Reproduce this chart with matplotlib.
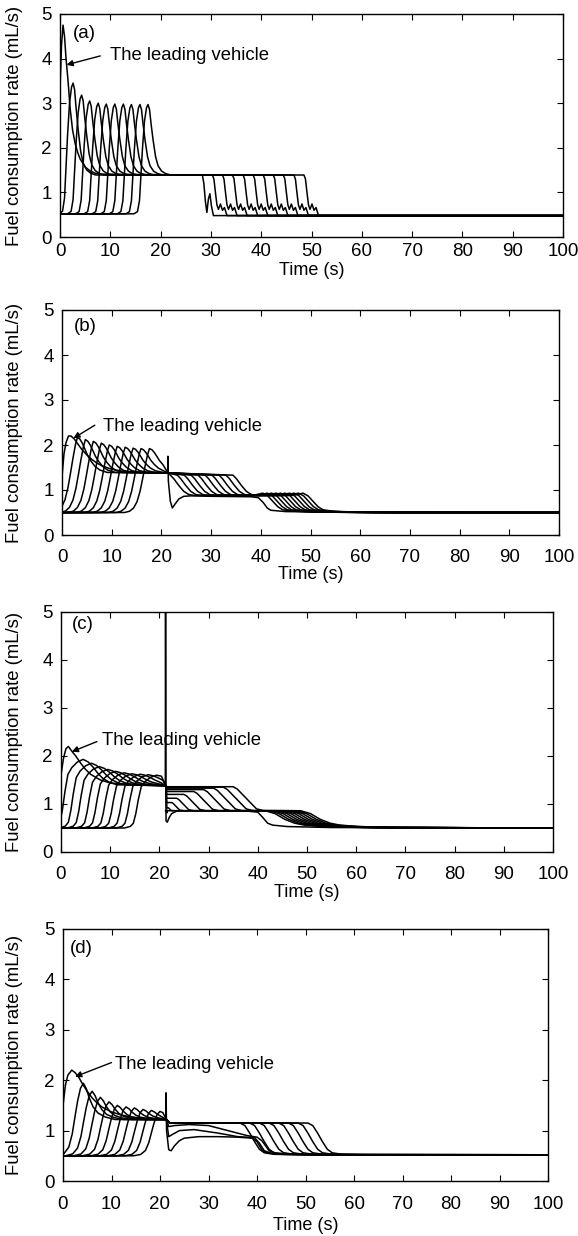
import matplotlib
matplotlib.use("Agg")
import matplotlib.pyplot as plt

plt.rcParams['font.family'] = ['Liberation Sans', 'DejaVu Sans']

# ---------------- data ----------------
x_ticks = [0, 10, 20, 30, 40, 50, 60, 70, 80, 90, 100]
y_ticks = [0, 1, 2, 3, 4, 5]
panel_tags = ['(a)', '(b)', '(c)', '(d)']

# ---- panel (a) ----
a_lead_t = [0, 0.3, 0.6, 0.9, 1.2, 1.6, 2.0, 2.5, 3.0, 3.5, 4.0, 5.0, 6.0, 7.0, 8.0,
            28.3, 28.6, 28.9, 29.2, 29.5, 29.8, 30.1, 30.5, 100]
a_lead_v = [3.3, 4.3, 4.75, 4.5, 4.0, 3.5, 2.9, 2.4, 2.1, 1.9, 1.75, 1.57, 1.48, 1.43, 1.41,
            1.39, 1.2, 0.8, 0.55, 0.85, 0.97, 0.7, 0.48, 0.48]
a_peak_t = [2.6, 4.3, 5.9, 7.6, 9.2, 10.9, 12.6, 14.2, 15.9, 17.5]
a_peak_v = [3.45, 3.18, 3.05, 3.0, 2.98, 2.98, 2.98, 2.97, 2.97, 2.97]
a_drop_t = [30.3, 32.3, 34.3, 36.4, 38.4, 40.4, 42.4, 44.4, 46.5, 48.5]
a_rise_dt = [-2.8, -2.1, -1.7, -1.4, -1.1, -0.7, -0.3, 0]
a_rise_f = [0, 0.02, 0.12, 0.36, 0.6, 0.85, 0.97, 1]
a_decay_dt = [0.3, 0.6, 1.0, 1.5, 2.0, 2.7, 3.5, 4.5]
a_decay_f = [0.93, 0.73, 0.5, 0.26, 0.13, 0.055, 0.02, 0]
a_drop_dt = [0, 0.3, 0.6, 0.9, 1.2, 1.6, 2.0, 2.4, 2.9]
a_drop_v = [1.39, 1.3, 1.0, 0.72, 0.62, 0.74, 0.6, 0.66, 0.48]
a_idle, a_cruise, a_stop = 0.52, 1.39, 0.48

# ---- panel (b) ----
b_lead_t = [0, 0.4, 0.8, 1.3, 1.8, 2.5, 3, 4, 5, 6, 7, 8, 10, 12, 15, 21.25, 21.3, 21.4,
            21.8, 22.2, 22.7, 23.5, 24.5, 26, 30, 38, 39.5, 40.5, 41.3, 42, 45, 55, 100]
b_lead_v = [1.3, 1.8, 2.05, 2.2, 2.2, 2.13, 2.05, 1.9, 1.78, 1.68, 1.6, 1.54, 1.46, 1.42, 1.4,
            1.38, 1.75, 1.2, 0.75, 0.6, 0.68, 0.8, 0.86, 0.87, 0.86, 0.85, 0.83, 0.72, 0.6,
            0.55, 0.52, 0.51, 0.5]
b_peak_t = [3.1, 4.7, 6.3, 7.9, 9.5, 11.1, 12.7, 14.3, 15.9, 17.6]
b_peak_v = [2.17, 2.12, 2.08, 2.04, 2.0, 1.97, 1.95, 1.93, 1.92, 1.92]
b_rise_dt = [-5.0, -4.0, -3.2, -2.5, -1.9, -1.4, -0.9, -0.4, 0]
b_rise_f = [0, 0.02, 0.07, 0.17, 0.33, 0.52, 0.72, 0.9, 1]
b_decay_dt = [0.5, 1.0, 1.5, 2.0, 2.7, 3.5, 4.5, 6.0]
b_decay_f = [0.95, 0.83, 0.67, 0.5, 0.33, 0.18, 0.07, 0]
b_desc_start = [21.5, 22.9, 24.3, 25.7, 27.1, 28.5, 29.9, 31.3, 32.7, 34.1]
b_desc_dt = [0, 1, 2, 3, 4, 5]
b_desc_v = [1.33, 1.25, 1.1, 0.97, 0.9, 0.88]
b_stop_t = [40.4, 41.3, 42.2, 43.1, 44.0, 44.9, 45.8, 46.7, 47.6, 48.5]
b_stop_dt = [-2, 0, 1, 2, 3, 4, 6, 10, 20]
b_stop_v = [0.88, 0.93, 0.87, 0.75, 0.63, 0.56, 0.53, 0.51, 0.5]
b_idle, b_cruise, b_final = 0.5, 1.39, 0.5

# ---- panel (c) ----
c_lead_t = [0, 0.5, 1.0, 1.5, 2.2, 3, 4, 5, 6, 8, 10, 12, 20, 21.2, 21.25, 21.35, 21.6,
            22.0, 22.5, 23.5, 25, 30, 38, 40, 41, 42, 43, 46, 55, 100]
c_lead_v = [1.6, 1.95, 2.15, 2.2, 2.1, 2.0, 1.85, 1.72, 1.62, 1.5, 1.44, 1.42, 1.4, 1.38,
            5.6, 0.65, 0.62, 0.72, 0.8, 0.85, 0.86, 0.86, 0.85, 0.83, 0.72, 0.6, 0.56, 0.53,
            0.51, 0.5]
c_peak_t = [4.5, 6.2, 7.8, 9.5, 11.1, 12.8, 14.4, 16.1, 17.7, 19.4]
c_peak_v = [1.93, 1.85, 1.78, 1.72, 1.68, 1.65, 1.63, 1.62, 1.61, 1.6]
c_rise_dt = [-6.5, -5.3, -4.7, -4.2, -3.7, -3.1, -2.3, -1.2, 0]
c_rise_f = [0, 0.03, 0.09, 0.27, 0.53, 0.78, 0.88, 0.96, 1]
c_decay_dt = [1, 2, 3, 4, 5.5, 7]
c_decay_f = [0.9, 0.7, 0.45, 0.25, 0.08, 0]
c_after_v = [0.82, 0.92, 1.03, 1.12, 1.2, 1.26, 1.3, 1.33, 1.35, 1.36]
c_desc_start = [21.6, 21.8, 22.5, 23.5, 25.0, 27.0, 29.0, 31.0, 33.0, 35.0]
c_stop_t = [41.5, 42.3, 43.1, 43.9, 44.7, 45.5, 46.3, 47.1, 47.9, 48.7]
c_stop_dt = [0, 2, 4, 6, 8, 12, 20]
c_stop_v = [0.86, 0.8, 0.68, 0.6, 0.56, 0.53, 0.51]
c_idle, c_cruise, c_band, c_final = 0.5, 1.4, 0.86, 0.5

# ---- panel (d) ----
d_lead_t = [0, 0.5, 1.0, 1.8, 2.5, 3.3, 4, 5, 6, 7, 8, 10, 12, 14, 16, 18, 21.2, 21.25,
            21.35, 21.8, 22.3, 23, 24, 25, 28, 32, 36, 39, 40, 41, 42, 45, 55, 100]
d_lead_v = [1.5, 1.9, 2.1, 2.2, 2.15, 2.05, 1.93, 1.78, 1.65, 1.55, 1.47, 1.37, 1.31, 1.27,
            1.25, 1.23, 1.22, 1.75, 1.0, 0.62, 0.6, 0.7, 0.8, 0.85, 0.88, 0.88, 0.87, 0.85,
            0.78, 0.62, 0.56, 0.53, 0.52, 0.52]
d_peak_t = [4.2, 6.0, 7.7, 9.5, 11.2, 13.0, 14.7, 16.5, 18.2, 20.0]
d_peak_v = [1.94, 1.78, 1.66, 1.57, 1.5, 1.47, 1.45, 1.42, 1.4, 1.38]
d_rise_dt = [-5.5, -4, -3, -2.3, -1.7, -1.2, -0.6, 0]
d_rise_f = [0, 0.03, 0.12, 0.3, 0.55, 0.75, 0.93, 1]
d_decay_dt = [0.6, 1.2, 2, 3, 4.5, 6.5]
d_decay_f = [0.85, 0.6, 0.35, 0.18, 0.07, 0]
d_f1_t = [21.8, 22.5, 24, 27, 32, 36, 39.5, 40.5, 41.5, 43, 50, 100]
d_f1_v = [0.88, 0.92, 1.0, 1.02, 0.95, 0.88, 0.86, 0.75, 0.6, 0.55, 0.53, 0.52]
d_f2_t = [21.8, 23, 26, 30, 34, 38, 40, 41, 42.5, 44, 50, 100]
d_f2_v = [1.08, 1.1, 1.12, 1.1, 1.0, 0.9, 0.87, 0.8, 0.6, 0.55, 0.53, 0.52]
d_desc_start = [36.5, 38.5, 40.5, 42.5, 44.5, 46.5, 48.5, 50.5]
d_desc_dt = [0, 1, 2, 3, 4, 5, 7, 12]
d_desc_v = [1.15, 1.1, 0.95, 0.78, 0.63, 0.56, 0.53, 0.52]
d_idle, d_cruise, d_hold, d_final = 0.5, 1.22, 1.15, 0.52

# annotation anchors (data units): tag, text, arrow tail, arrow tip
tag_pos = [(2.6, 4.57), (2.3, 4.63), (2.2, 4.73), (1.4, 4.62)]
note_pos = [(10.0, 4.08), (8.3, 2.41), (8.3, 2.33), (10.7, 2.32)]
arrow_tail = [(8.0, 4.06), (6.6, 2.44), (7.3, 2.3), (10.0, 2.35)]
arrow_tip = [(1.3, 3.86), (2.3, 2.15), (2.2, 2.09), (2.5, 2.07)]

# axes boxes in pixels: left, right, top, bottom
boxes = [(60, 563, 14, 237), (62, 559, 310, 535), (61, 553, 612, 852), (63, 548, 929, 1181)]
xtick_pad = [4, 10, 10, 11]
xlabel_center = [268, 572, 890, 1223]


# ---------------- helpers ----------------
def start_up(peak_t, peak_v, idle, rdt, rf, base, ddt, df, t_cut=None):
    ts, vs = [], []
    if peak_t + rdt[0] > 0:
        ts.append(0.0); vs.append(idle)
    for dt, f in zip(rdt, rf):
        ts.append(peak_t + dt); vs.append(idle + (peak_v - idle) * f)
    for dt, f in zip(ddt, df):
        t = peak_t + dt
        if t_cut is not None and t >= t_cut:
            break
        ts.append(t); vs.append(base + (peak_v - base) * f)
    return ts, vs


def draw(ax, ts, vs):
    ax.plot(ts, vs, color='black', lw=1.1, solid_joinstyle='round')


W, H = 578, 1236
fig = plt.figure(figsize=(W / 100, H / 100), dpi=100)
axes = []
for (l, r, t, b) in boxes:
    ax = fig.add_axes([l / W, 1 - b / H, (r - l) / W, (b - t) / H])
    axes.append(ax)

# ---- (a)
ax = axes[0]
draw(ax, a_lead_t, a_lead_v)
for k in range(len(a_peak_t)):
    ts, vs = start_up(a_peak_t[k], a_peak_v[k], a_idle, a_rise_dt, a_rise_f,
                      a_cruise, a_decay_dt, a_decay_f)
    for dt, v in zip(a_drop_dt, a_drop_v):
        ts.append(a_drop_t[k] + dt); vs.append(v)
    ts.append(100); vs.append(a_stop)
    draw(ax, ts, vs)

# ---- (b)
ax = axes[1]
draw(ax, b_lead_t, b_lead_v)
for k in range(len(b_peak_t)):
    ts, vs = start_up(b_peak_t[k], b_peak_v[k], b_idle, b_rise_dt, b_rise_f,
                      b_cruise, b_decay_dt, b_decay_f, t_cut=21.0)
    ts += [21.3]; vs += [1.38]
    for dt, v in zip(b_desc_dt, b_desc_v):
        ts.append(b_desc_start[k] + dt + (0.3 if dt == 0 else 0)); vs.append(v)
    for dt, v in zip(b_stop_dt, b_stop_v):
        t = b_stop_t[k] + dt
        if t > ts[-1]:
            ts.append(t); vs.append(v)
    ts.append(100); vs.append(b_final)
    draw(ax, ts, vs)

# ---- (c)
ax = axes[2]
draw(ax, c_lead_t, c_lead_v)
for k in range(len(c_peak_t)):
    ts, vs = start_up(c_peak_t[k], c_peak_v[k], c_idle, c_rise_dt, c_rise_f,
                      c_cruise, c_decay_dt, c_decay_f, t_cut=21.0)
    ts += [21.3, 21.5]; vs += [1.38, c_after_v[k]]
    a = c_after_v[k]
    s = max(c_desc_start[k], 21.6)
    dur = (a - c_band) / 0.09
    ts += [s, s + dur * 0.15, s + dur * 0.85, s + dur + 0.6]
    vs += [a, a - (a - c_band) * 0.1, c_band + (a - c_band) * 0.08, c_band]
    for dt, v in zip(c_stop_dt, c_stop_v):
        t = c_stop_t[k] + dt
        if t > ts[-1]:
            ts.append(t); vs.append(v)
    ts.append(100); vs.append(c_final)
    draw(ax, ts, vs)

# ---- (d)
ax = axes[3]
draw(ax, d_lead_t, d_lead_v)
for k in range(len(d_peak_t)):
    ts, vs = start_up(d_peak_t[k], d_peak_v[k], d_idle, d_rise_dt, d_rise_f,
                      d_cruise, d_decay_dt, d_decay_f, t_cut=21.0)
    ts += [21.3]; vs += [d_cruise]
    if k == 0:
        ts += d_f1_t; vs += d_f1_v
    elif k == 1:
        ts += d_f2_t; vs += d_f2_v
    else:
        ts += [22.0]; vs += [d_hold]
        s = d_desc_start[k - 2]
        for dt, v in zip(d_desc_dt, d_desc_v):
            ts.append(s + dt); vs.append(v)
        ts.append(100); vs.append(d_final)
    draw(ax, ts, vs)

for i, ax in enumerate(axes):
    l, r, t, b = boxes[i]
    ax.set_xlim(0, 100)
    ax.set_ylim(0, 5)
    ax.set_xticks(x_ticks)
    ax.set_yticks(y_ticks)
    ax.tick_params(direction='in', top=True, right=True, length=4, width=0.8,
                   labelsize=13.5)
    ax.tick_params(axis='x', pad=xtick_pad[i])
    ax.tick_params(axis='y', pad=6)
    for sp in ax.spines.values():
        sp.set_linewidth(1.0)
    ax.set_xlabel('Time (s)', fontsize=13)
    ax.xaxis.set_label_coords(0.5, -((xlabel_center[i] - 6) - b) / (b - t))
    ax.set_ylabel('Fuel consumption rate (mL/s)', fontsize=13.3)
    ax.yaxis.set_label_coords((23 - l) / (r - l), 0.5)
    ax.text(tag_pos[i][0], tag_pos[i][1], panel_tags[i], fontsize=13.5,
            ha='left', va='center')
    ax.text(note_pos[i][0], note_pos[i][1], 'The leading vehicle', fontsize=13.3,
            ha='left', va='center')
    ax.annotate('', xy=arrow_tip[i], xytext=arrow_tail[i],
                arrowprops=dict(arrowstyle='-|>', color='black', lw=1.0,
                                mutation_scale=9, shrinkA=0, shrinkB=0))

fig.savefig('out.png', dpi=100)
